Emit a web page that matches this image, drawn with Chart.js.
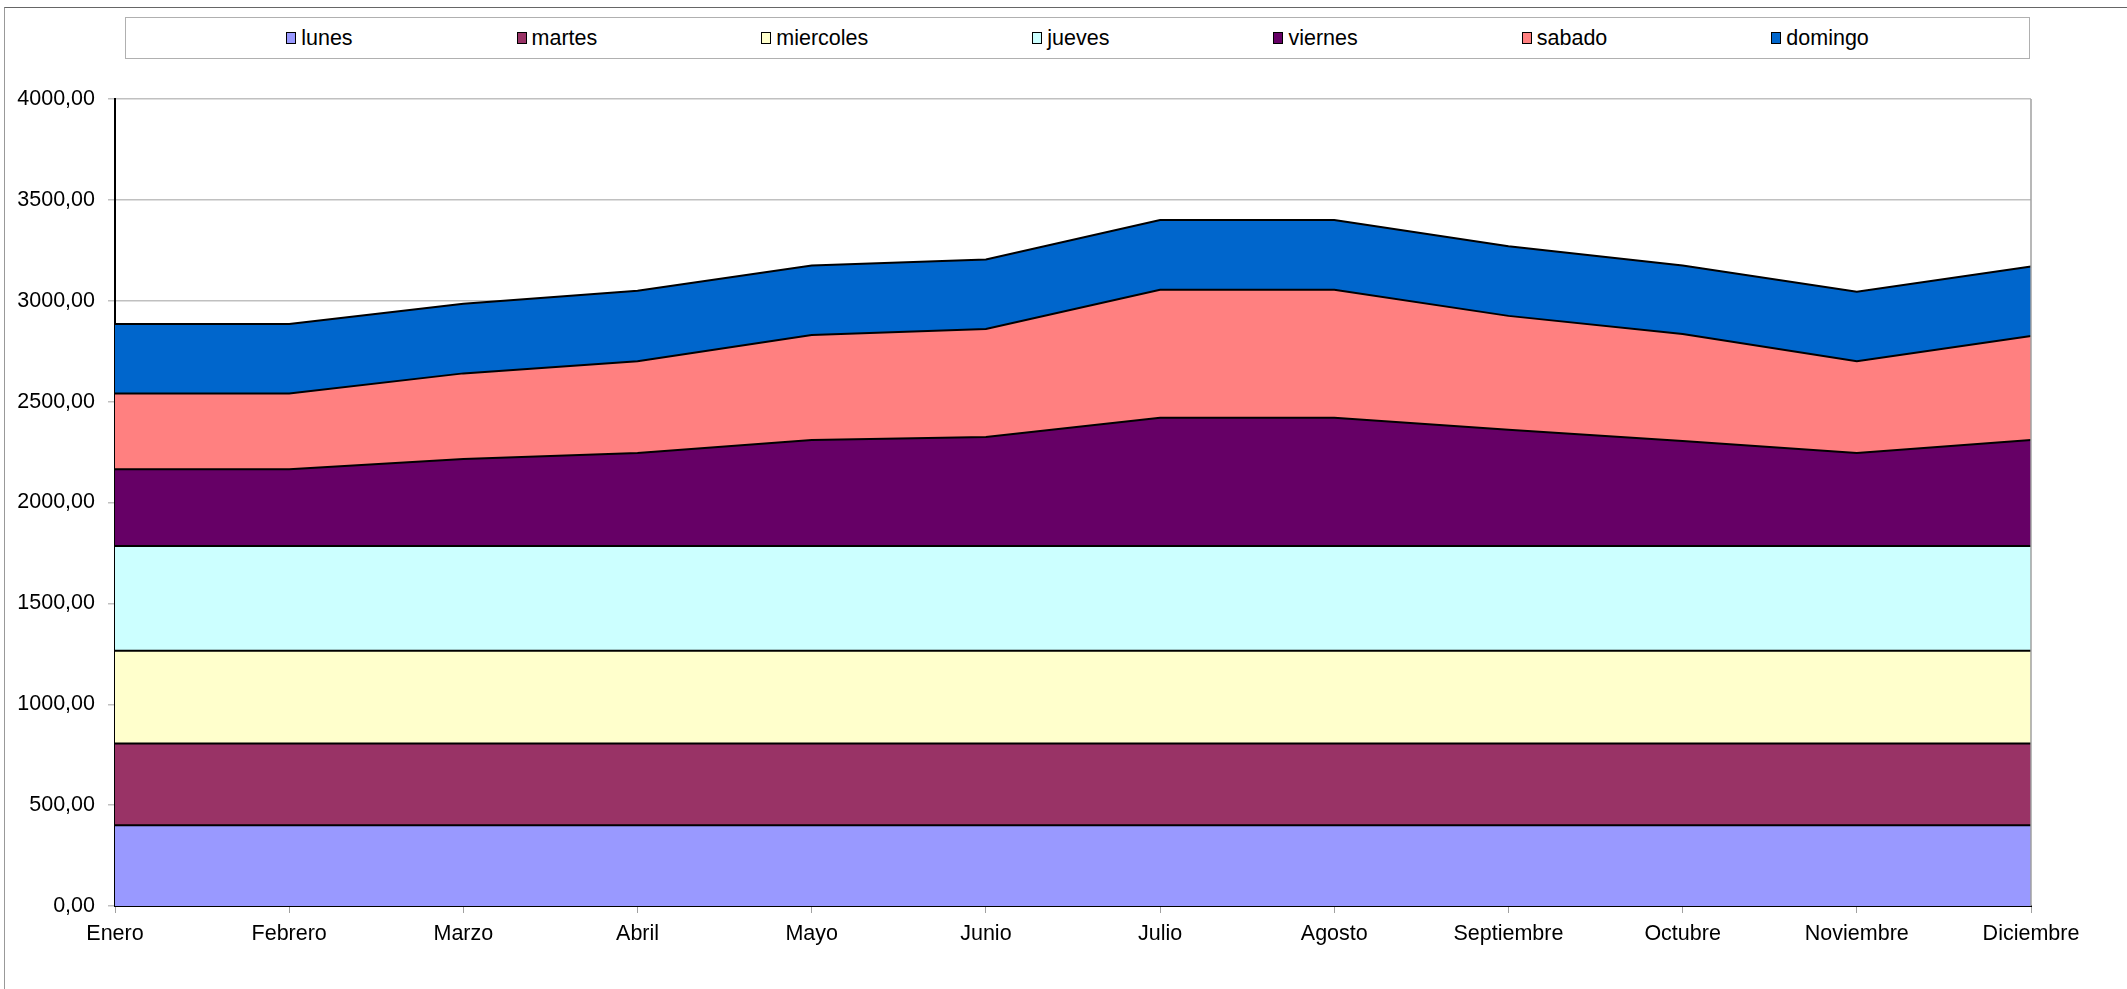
<!DOCTYPE html>
<html>
<head>
<meta charset="utf-8">
<script src="https://cdn.jsdelivr.net/npm/chart.js@4"></script>
<style>
  html, body { margin: 0; padding: 0; background: #fff; }
  #wrap { position: relative; width: 2127px; height: 989px; overflow: hidden; }
  #frame {
    position: absolute; left: 4px; top: 7px; right: -10px; bottom: -10px;
    border-top: 1.5px solid #666; border-left: 1.5px solid #999;
  }
  #legend {
    position: absolute; left: 125px; top: 17px; width: 1905px; height: 42px;
    border: 1px solid #b0b0b0; box-sizing: border-box; background: #fff;
    display: flex; align-items: center; justify-content: center; gap: 164px;
    font-family: Arial, "Liberation Sans", sans-serif; font-size: 21.5px; color: #000;
  }
  #legend .item { display: flex; align-items: center; }
  #legend .box { width: 10px; height: 12px; border: 1px solid #000; box-sizing: border-box; margin-right: 5px; }
  canvas { position: absolute; left: 0; top: 0; }
</style>
</head>
<body>
<div id="wrap">
  <div id="frame"></div>
  <canvas id="area-chart" width="2127" height="989"></canvas>
  <div id="legend"></div>
</div>
<script>
  const meses = ["Enero", "Febrero", "Marzo", "Abril", "Mayo", "Junio", "Julio", "Agosto", "Septiembre", "Octubre", "Noviembre", "Diciembre"];
  const dias = ["lunes", "martes", "miercoles", "jueves", "viernes", "sabado", "domingo"];

  // Valores por dia de la semana (cada serie se apila sobre la anterior)
  const lunes     = [400, 400, 400, 400, 400, 400, 400, 400, 400, 400, 400, 400];
  const martes    = [405, 405, 405, 405, 405, 405, 405, 405, 405, 405, 405, 405];
  const miercoles = [460, 460, 460, 460, 460, 460, 460, 460, 460, 460, 460, 460];
  const jueves    = [520, 520, 520, 520, 520, 520, 520, 520, 520, 520, 520, 520];
  const viernes   = [380, 380, 430, 460, 525, 540, 635, 635, 575, 520, 460, 525];
  const sabado    = [375, 375, 425, 455, 520, 535, 635, 635, 565, 530, 455, 515];
  const domingo   = [345, 345, 345, 350, 345, 345, 345, 345, 345, 340, 345, 345];

  const colores = ["#9999FF", "#993366", "#FFFFCC", "#CCFFFF", "#660066", "#FF8080", "#0066CC"];
  const series = [lunes, martes, miercoles, jueves, viernes, sabado, domingo];

  const fuente = { family: "Arial, 'Liberation Sans', sans-serif", size: 21.5 };

  // leyenda en html dentro de su recuadro
  const legend = document.getElementById("legend");
  dias.forEach((d, i) => {
    const item = document.createElement("div");
    item.className = "item";
    const box = document.createElement("span");
    box.className = "box";
    box.style.background = colores[i];
    item.appendChild(box);
    item.appendChild(document.createTextNode(d));
    legend.appendChild(item);
  });

  // borde derecho gris del area de trazado
  const bordeDerecho = {
    id: "bordeDerecho",
    afterDatasetsDraw(chart) {
      const { ctx, chartArea } = chart;
      ctx.save();
      ctx.strokeStyle = "#a0a0a0";
      ctx.lineWidth = 1.5;
      ctx.beginPath();
      ctx.moveTo(chartArea.right, chartArea.top);
      ctx.lineTo(chartArea.right, chartArea.bottom);
      ctx.stroke();
      ctx.restore();
    }
  };

  new Chart(document.getElementById("area-chart"), {
    type: "line",
    data: {
      labels: meses,
      datasets: dias.map((d, i) => ({
        label: d,
        data: series[i],
        backgroundColor: colores[i],
        borderColor: "#000",
        borderWidth: 2,
        fill: i === 0 ? "origin" : "-1",
        pointRadius: 0,
        tension: 0
      }))
    },
    options: {
      responsive: false,
      animation: false,
      layout: { padding: { left: 0, right: 96, top: 99, bottom: 0 } },
      plugins: {
        legend: { display: false },
        tooltip: { enabled: false }
      },
      scales: {
        x: {
          offset: false,
          grid: { drawOnChartArea: false, color: "#a0a0a0", tickLength: 7 },
          border: { color: "#000", width: 2 },
          ticks: { color: "#000", font: fuente, padding: 8, maxRotation: 0, autoSkip: false },
          afterFit(scale) { scale.height = 83; }
        },
        y: {
          stacked: true,
          min: 0,
          max: 4000,
          grid: { color: "#c0c0c0", lineWidth: 1.5, tickLength: 7 },
          border: { color: "#000", width: 2 },
          ticks: {
            stepSize: 500,
            color: "#000",
            font: fuente,
            padding: 13,
            callback: v => v.toFixed(2).replace(".", ",")
          },
          afterFit(scale) { scale.width = 115; }
        }
      }
    },
    plugins: [bordeDerecho]
  });
</script>
</body>
</html>
